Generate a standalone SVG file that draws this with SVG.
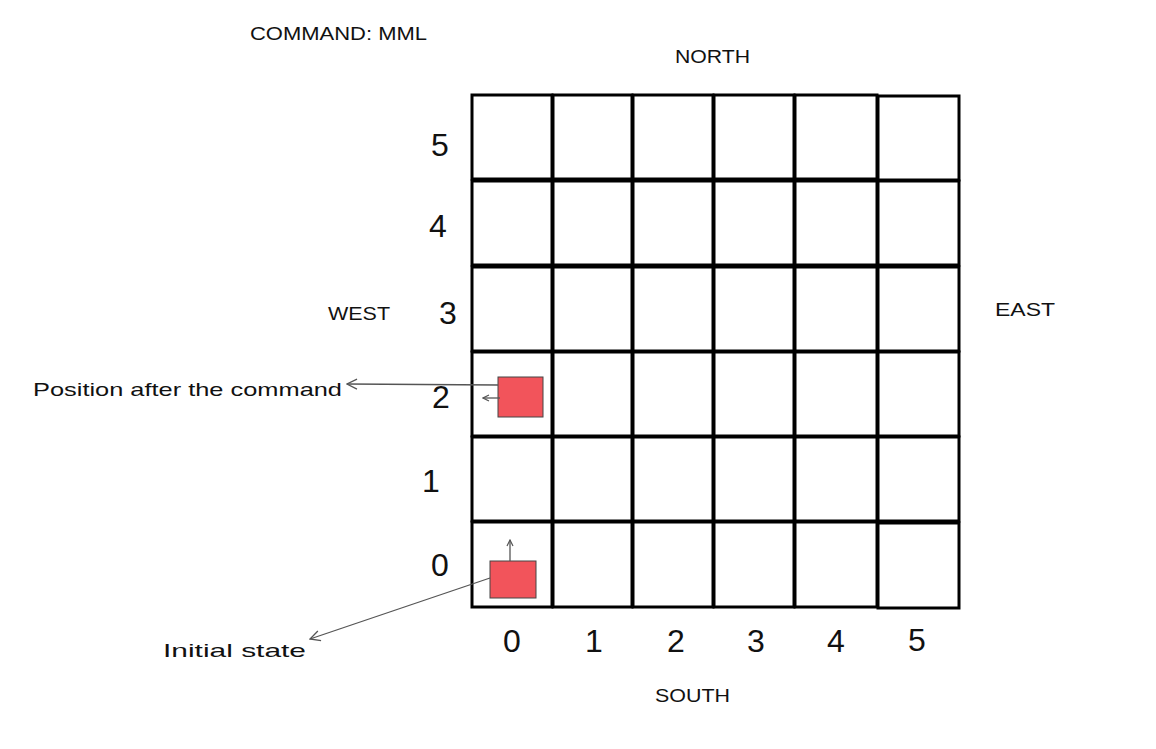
<svg xmlns="http://www.w3.org/2000/svg" width="1156" height="749" viewBox="0 0 1156 749">
<style>
.cell{fill:#fff;stroke:#000;stroke-width:3}
.lbl{font-family:"Liberation Sans",Arial,sans-serif;font-size:19px;fill:#111}
.num{font-family:"Liberation Sans",Arial,sans-serif;font-size:32px;fill:#111;text-anchor:middle}
.bot{fill:#f2545b;stroke:#444;stroke-width:1}
.conn{fill:none;stroke:#555;stroke-width:1.3}
</style>
<defs>
<marker id="ah" viewBox="0 0 12 12" refX="11" refY="6" markerWidth="12" markerHeight="12" markerUnits="userSpaceOnUse" orient="auto">
<path d="M1,1 L11,6 L1,11" fill="none" stroke="#555" stroke-width="1.3"/>
</marker>
<marker id="ahs" viewBox="0 0 8 8" refX="7" refY="4" markerWidth="8" markerHeight="8" markerUnits="userSpaceOnUse" orient="auto">
<path d="M1,1 L7,4 L1,7" fill="none" stroke="#555" stroke-width="1.2"/>
</marker>
</defs>
<rect width="1156" height="749" fill="#fff"/>
<g id="grid">
<rect class="cell" x="472" y="95" width="80" height="84"/>
<rect class="cell" x="553" y="95" width="79" height="84"/>
<rect class="cell" x="633" y="95" width="80" height="84"/>
<rect class="cell" x="714" y="95" width="80" height="84"/>
<rect class="cell" x="795" y="95" width="82" height="84"/>
<rect class="cell" x="878" y="96" width="81" height="84"/>
<rect class="cell" x="472" y="181" width="80" height="84"/>
<rect class="cell" x="553" y="181" width="79" height="84"/>
<rect class="cell" x="633" y="181" width="80" height="84"/>
<rect class="cell" x="714" y="181" width="80" height="84"/>
<rect class="cell" x="795" y="181" width="82" height="84"/>
<rect class="cell" x="878" y="181" width="81" height="84"/>
<rect class="cell" x="472" y="267" width="80" height="84"/>
<rect class="cell" x="553" y="267" width="79" height="84"/>
<rect class="cell" x="633" y="267" width="80" height="84"/>
<rect class="cell" x="714" y="267" width="80" height="84"/>
<rect class="cell" x="795" y="267" width="82" height="84"/>
<rect class="cell" x="878" y="267" width="81" height="84"/>
<rect class="cell" x="472" y="352" width="80" height="84"/>
<rect class="cell" x="553" y="352" width="79" height="84"/>
<rect class="cell" x="633" y="352" width="80" height="84"/>
<rect class="cell" x="714" y="352" width="80" height="84"/>
<rect class="cell" x="795" y="352" width="82" height="84"/>
<rect class="cell" x="878" y="352" width="81" height="84"/>
<rect class="cell" x="472" y="437" width="80" height="84"/>
<rect class="cell" x="553" y="437" width="79" height="84"/>
<rect class="cell" x="633" y="437" width="80" height="84"/>
<rect class="cell" x="714" y="437" width="80" height="84"/>
<rect class="cell" x="795" y="437" width="82" height="84"/>
<rect class="cell" x="878" y="437" width="81" height="84"/>
<rect class="cell" x="472" y="522" width="80" height="85"/>
<rect class="cell" x="553" y="522" width="79" height="85"/>
<rect class="cell" x="633" y="522" width="80" height="85"/>
<rect class="cell" x="714" y="522" width="80" height="85"/>
<rect class="cell" x="795" y="522" width="82" height="85"/>
<rect class="cell" x="878" y="523" width="81" height="85"/>
</g>
<g id="row-labels">
<text class="num" x="440" y="156">5</text>
<text class="num" x="438" y="237">4</text>
<text class="num" x="448" y="324">3</text>
<text class="num" x="441" y="408">2</text>
<text class="num" x="431" y="492">1</text>
<text class="num" x="440" y="576">0</text>
</g>
<g id="col-labels">
<text class="num" x="512" y="652">0</text>
<text class="num" x="594" y="652">1</text>
<text class="num" x="676" y="652">2</text>
<text class="num" x="756" y="652">3</text>
<text class="num" x="836" y="652">4</text>
<text class="num" x="917" y="651">5</text>
</g>
<g id="compass">
<text class="lbl" x="250" y="40" textLength="177" lengthAdjust="spacingAndGlyphs">COMMAND: MML</text>
<text class="lbl" x="675" y="63" textLength="75" lengthAdjust="spacingAndGlyphs">NORTH</text>
<text class="lbl" x="655" y="702" textLength="75" lengthAdjust="spacingAndGlyphs">SOUTH</text>
<text class="lbl" x="328" y="320" textLength="62" lengthAdjust="spacingAndGlyphs">WEST</text>
<text class="lbl" x="995" y="316" textLength="60" lengthAdjust="spacingAndGlyphs">EAST</text>
</g>
<g id="initial-state">
<rect class="bot" x="490" y="561" width="46" height="37"/>
<text class="lbl" x="163" y="657" textLength="143" lengthAdjust="spacingAndGlyphs">Initial state</text>
</g>
<g id="final-position">
<rect class="bot" x="498" y="377" width="45" height="40"/>
<text class="lbl" x="33" y="396" textLength="309" lengthAdjust="spacingAndGlyphs">Position after the command</text>
</g>
<g id="connectors">
<path class="conn" d="M510,561 L510,540" marker-end="url(#ahs)"/>
<path class="conn" d="M500,398 L483,398" marker-end="url(#ahs)"/>
<path class="conn" d="M498,385 L347,384" marker-end="url(#ah)"/>
<path class="conn" d="M490,578 L310,639" marker-end="url(#ah)"/>
</g>
</svg>
